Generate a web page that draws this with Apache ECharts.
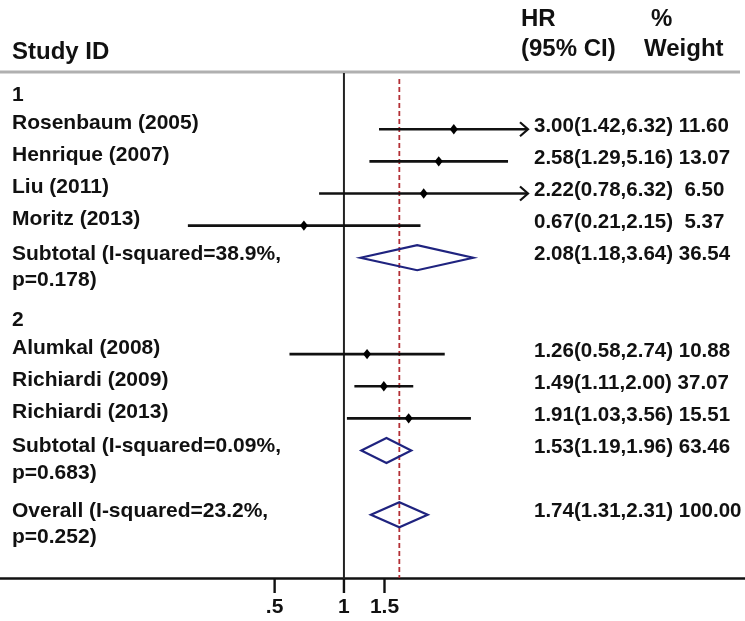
<!DOCTYPE html>
<html>
<head>
<meta charset="utf-8">
<script src="https://cdn.jsdelivr.net/npm/echarts@6/dist/echarts.min.js"></script>
<style>
  html, body { margin: 0; padding: 0; background: #fff; }
  #chart { width: 745px; height: 621px; }
</style>
</head>
<body>
<div id="chart"></div>
<script>
// ---- data ----
const labels = [
  "1",
  "Rosenbaum (2005)",
  "Henrique (2007)",
  "Liu (2011)",
  "Moritz (2013)",
  "Subtotal (I-squared=38.9%,\np=0.178)",
  "2",
  "Alumkal (2008)",
  "Richiardi (2009)",
  "Richiardi (2013)",
  "Subtotal (I-squared=0.09%,\np=0.683)",
  "Overall (I-squared=23.2%,\np=0.252)"
];
const rowKind = ["group","study","study","study","study","pooled","group","study","study","study","pooled","pooled"];
const hr     = [null, 3.00, 2.58, 2.22, 0.67, 2.08, null, 1.26, 1.49, 1.91, 1.53, 1.74];
const lower  = [null, 1.42, 1.29, 0.78, 0.21, 1.18, null, 0.58, 1.11, 1.03, 1.19, 1.31];
const upper  = [null, 6.32, 5.16, 6.32, 2.15, 3.64, null, 2.74, 2.00, 3.56, 1.96, 2.31];
const weight = [null, 11.60, 13.07, 6.50, 5.37, 36.54, null, 10.88, 37.07, 15.51, 63.46, 100.00];
const tickValues = [0.5, 1, 1.5];
const tickLabels = [".5", "1", "1.5"];
const headerStudy = "Study ID";
const headerHR = ["HR", "(95% CI)"];
const headerW = ["%", "Weight"];

// ---- layout / style ----
const X_MIN = 0.2, X_MAX = 6.3;
const Y_MIN = -0.75, Y_MAX = 15;
const FONT = '"Liberation Sans", Arial, sans-serif';
const TXT = '#111';
const NAVY = '#1f237f';

// row index of each entry derived from order and number of text lines
const rows = [];
(function () { let r = 0; labels.forEach(l => { rows.push(r); r += l.split('\n').length; }); })();
const overallIdx = labels.length - 1;

function fmtRight(i) {
  const gap = weight[i] < 10 ? '  ' : ' ';
  return hr[i].toFixed(2) + '(' + lower[i].toFixed(2) + ',' + upper[i].toFixed(2) + ')' + gap + weight[i].toFixed(2);
}

const chart = echarts.init(document.getElementById('chart'), null, { renderer: 'canvas' });

const option = {
  backgroundColor: '#fff',
  animation: false,
  grid: { left: 183, right: 217, top: 73, bottom: 42 },
  xAxis: { type: 'log', min: X_MIN, max: X_MAX, show: false },
  yAxis: { type: 'value', inverse: true, min: Y_MIN, max: Y_MAX, show: false },
  graphic: [
    { type: 'line', shape: { x1: 0, y1: 72, x2: 740, y2: 72 }, style: { stroke: '#b0b0b0', lineWidth: 3 }, z: 1 },
    { type: 'line', shape: { x1: 0, y1: 578.5, x2: 745, y2: 578.5 }, style: { stroke: '#111', lineWidth: 2.5 }, z: 1 },
    { type: 'text', left: 12, top: 40, style: { text: headerStudy, fontSize: 24, fontWeight: 'bold', fontFamily: FONT, fill: TXT } },
    { type: 'text', left: 521, top: 7, style: { text: headerHR[0], fontSize: 24, fontWeight: 'bold', fontFamily: FONT, fill: TXT } },
    { type: 'text', left: 521, top: 37, style: { text: headerHR[1], fontSize: 24, fontWeight: 'bold', fontFamily: FONT, fill: TXT } },
    { type: 'text', left: 651, top: 7, style: { text: headerW[0], fontSize: 24, fontWeight: 'bold', fontFamily: FONT, fill: TXT } },
    { type: 'text', left: 644, top: 37, style: { text: headerW[1], fontSize: 24, fontWeight: 'bold', fontFamily: FONT, fill: TXT } }
  ],
  series: [
    // reference lines: null line at 1 and dashed line at overall estimate
    {
      type: 'custom', coordinateSystem: 'cartesian2d', z: 2,
      data: [[1, Y_MIN]],
      renderItem: function (params, api) {
        const top = api.coord([1, Y_MIN]);
        const bot = api.coord([1, Y_MAX]);
        const o = api.coord([hr[overallIdx], Y_MIN]);
        return {
          type: 'group',
          children: [
            { type: 'line', shape: { x1: top[0], y1: top[1], x2: bot[0], y2: bot[1] }, style: { stroke: '#222', lineWidth: 2 } },
            { type: 'line', shape: { x1: o[0], y1: top[1] + 6, x2: o[0], y2: bot[1] - 1 }, style: { stroke: '#b32f35', lineWidth: 1.8, lineDash: [5, 3] } }
          ]
        };
      }
    },
    // CI lines, point markers and pooled diamonds
    {
      type: 'custom', coordinateSystem: 'cartesian2d', z: 3,
      data: labels.map((l, i) => [hr[i] == null ? 1 : hr[i], rows[i], i]).filter(d => hr[d[2]] != null),
      renderItem: function (params, api) {
        const i = api.value(2);
        const row = api.value(1);
        const c = api.coord([hr[i], row]);
        const l = api.coord([Math.max(lower[i], X_MIN), row]);
        const h = api.coord([Math.min(upper[i], X_MAX), row]);
        const children = [];
        if (rowKind[i] === 'pooled') {
          children.push({
            type: 'polygon',
            shape: { points: [[l[0], c[1]], [c[0], c[1] - 12.5], [h[0], c[1]], [c[0], c[1] + 12.5]] },
            style: { stroke: NAVY, lineWidth: 2.2, fill: 'rgba(255,255,255,0)' }
          });
        } else {
          children.push({ type: 'line', shape: { x1: l[0], y1: c[1], x2: h[0], y2: c[1] }, style: { stroke: '#111', lineWidth: 2.6 } });
          if (upper[i] > X_MAX) {
            children.push({ type: 'polyline', shape: { points: [[h[0] - 8, c[1] - 7], [h[0], c[1]], [h[0] - 8, c[1] + 7]] }, style: { stroke: '#111', lineWidth: 2.2, fill: null } });
          }
          if (lower[i] < X_MIN) {
            children.push({ type: 'polyline', shape: { points: [[l[0] + 8, c[1] - 7], [l[0], c[1]], [l[0] + 8, c[1] + 7]] }, style: { stroke: '#111', lineWidth: 2.2, fill: null } });
          }
          children.push({
            type: 'polygon',
            shape: { points: [[c[0] - 4, c[1]], [c[0], c[1] - 5.2], [c[0] + 4, c[1]], [c[0], c[1] + 5.2]] },
            style: { fill: '#000' }
          });
        }
        return { type: 'group', children: children };
      }
    },
    // text labels (left study names, right estimates)
    {
      type: 'custom', coordinateSystem: 'cartesian2d', z: 4,
      data: labels.map((l, i) => [1, rows[i], i]),
      renderItem: function (params, api) {
        const i = api.value(2);
        const y = api.coord([1, api.value(1)])[1];
        const kind = rowKind[i];
        const off = kind === 'group' ? -2 : (kind === 'pooled' ? -4 : -6);
        const children = labels[i].split('\n').map((t, j) => ({
          type: 'text',
          style: { text: t, x: 12, y: y + off + j * 26.5, verticalAlign: 'middle', align: 'left', fontSize: 21, fontWeight: 'bold', fontFamily: FONT, fill: TXT }
        }));
        if (hr[i] != null) {
          children.push({
            type: 'text',
            style: { text: fmtRight(i), x: 534, y: y - 3, verticalAlign: 'middle', align: 'left', fontSize: 20.5, fontWeight: 'bold', fontFamily: FONT, fill: TXT }
          });
        }
        return { type: 'group', children: children };
      }
    },
    // x-axis ticks and labels
    {
      type: 'custom', coordinateSystem: 'cartesian2d', z: 4,
      data: tickValues.map((v, i) => [v, Y_MAX, i]),
      renderItem: function (params, api) {
        const p = api.coord([api.value(0), Y_MAX]);
        const i = api.value(2);
        return {
          type: 'group',
          children: [
            { type: 'line', shape: { x1: p[0], y1: p[1], x2: p[0], y2: p[1] + 14 }, style: { stroke: '#111', lineWidth: 2.4 } },
            { type: 'text', style: { text: tickLabels[i], x: p[0], y: p[1] + 28, align: 'center', verticalAlign: 'middle', fontSize: 21, fontWeight: 'bold', fontFamily: FONT, fill: TXT } }
          ]
        };
      }
    }
  ]
};
chart.setOption(option);
</script>
</body>
</html>
